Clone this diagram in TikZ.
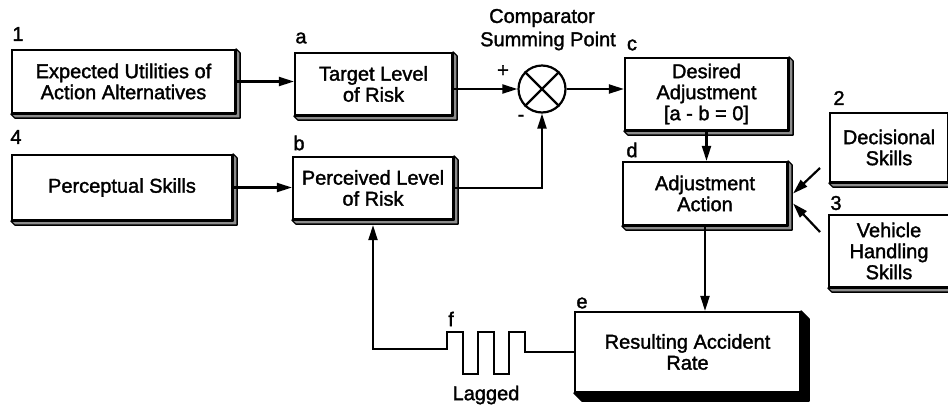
\documentclass[tikz,border=0pt]{standalone}
\usepackage{fontspec}
\setmainfont{Liberation Sans}[FakeBold=1.6]
\usetikzlibrary{arrows.meta,calc}
\newcommand{\boxshadow}[3][shd]{\path[#1] (#2.north east) -- ++(#3,#3) -- ([shift={(#3,#3)}]#2.south east) -- ([shift={(#3,#3)}]#2.south west) -- (#2.south west) -- (#2.south east) -- cycle;}
\begin{document}
\begin{tikzpicture}[x=1pt,y=-1pt,
  blk/.style={draw, line width=2.2pt, fill=white, align=center, inner sep=0pt, font=\fontsize{20}{21}\selectfont},
  lbl/.style={inner sep=0pt, font=\fontsize{20}{21}\selectfont},
  arr/.style={line width=2.2pt, -{Triangle[length=15pt,width=9pt]}},
  ln/.style={line width=2.2pt},
  shd/.style={fill=black!45, draw=black, line width=1.3pt, line join=round},
  shdk/.style={fill=black, draw=black, line width=1.3pt, line join=round}]
\clip (0,0) rectangle (948,408);
% boxes
\node[blk, minimum width=223pt, minimum height=63pt] (n1) at (123.5,81.5) {Expected Utilities of\\Action Alternatives};
\node[blk, minimum width=157pt, minimum height=62pt] (na) at (373.5,84) {Target Level\\of Risk};
\node[blk, minimum width=220pt, minimum height=65pt] (n4) at (122,187.5) {Perceptual Skills};
\node[blk, minimum width=160pt, minimum height=62pt] (nb) at (373,188) {Perceived Level\\of Risk};
\node[blk, minimum width=163pt, minimum height=72pt] (nc) at (706.5,94) {Desired\\Adjustment\\{[a - b = 0]}};
\node[blk, minimum width=164pt, minimum height=63pt] (nd) at (705,193.5) {Adjustment\\Action};
\node[blk, minimum width=225pt, minimum height=80pt] (ne) at (687.5,352) {Resulting Accident\\Rate};
\node[blk, minimum width=118pt, minimum height=69pt] (n2) at (889,147.5) {Decisional\\Skills};
\node[blk, minimum width=120pt, minimum height=72pt] (n3) at (889,251) {Vehicle\\Handling\\Skills};
% shadows
\boxshadow{n1}{4}
\boxshadow{na}{4}
\boxshadow{n4}{4}
\boxshadow{nb}{4}
\boxshadow{nc}{4}
\boxshadow{nd}{4}
\boxshadow{n2}{4}
\boxshadow{n3}{4}
\boxshadow[shdk]{ne}{8}
% summing point
\node[circle, draw, line width=2.2pt, minimum size=47pt, inner sep=0pt] (sum) at (542,89) {};
\draw[ln] (sum.north east) -- (sum.south west);
\draw[ln] (sum.north west) -- (sum.south east);
% labels
\node[lbl] (l1) at (18,34) {1};
\node[lbl] (la) at (301,38) {a};
\node[lbl] (l4) at (16,137) {4};
\node[lbl] (lb) at (299,143) {b};
\node[lbl] (lc) at (632,45) {c};
\node[lbl] (ld) at (632,150) {d};
\node[lbl] (l2) at (839,98) {2};
\node[lbl] (l3) at (836,203) {3};
\node[lbl] (le) at (582,303) {e};
\node[lbl] (lf) at (451,319) {f};
\node[lbl] (lplus) at (503,71) {+};
\node[lbl] (lminus) at (521,118) {-};
\node[lbl] (cmp1) at (542,18) {Comparator};
\node[lbl] (cmp2) at (548,41) {Summing Point};
\node[lbl] (lag) at (486,395) {Lagged};
% connectors
\draw[arr] (n1.east) -- (n1.east -| na.west);
\draw[arr] (na.east |- sum.west) -- (sum.west);
\draw[arr] (sum.east) -- (sum.east -| nc.west);
\draw[arr] (n4.east) -- (n4.east -| nb.west);
\draw[arr] (nb.east) -| (sum.south);
\draw[arr] (nc.south) -- (nc.south |- nd.north);
\draw[arr] (nd.south) -- (nd.south |- ne.north);
\coordinate (t2) at (820,168);
\coordinate (t3) at (820,232);
\draw[arr] (t2) -- ([shift={(5,0)}]nd.east);
\draw[arr] (t3) -- ([shift={(5,10)}]nd.east);
\draw[arr, line join=miter] (ne.west) -- ++(-49,0) -- ++(0,-20) -- ++(-16,0) -- ++(0,42) -- ++(-15,0) -- ++(0,-42) -- ++(-16,0) -- ++(0,42) -- ++(-15,0) -- ++(0,-42) -- ++(-16,0) -- ++(0,17) -| ([yshift=-5pt]nb.south);
\end{tikzpicture}
\end{document}
